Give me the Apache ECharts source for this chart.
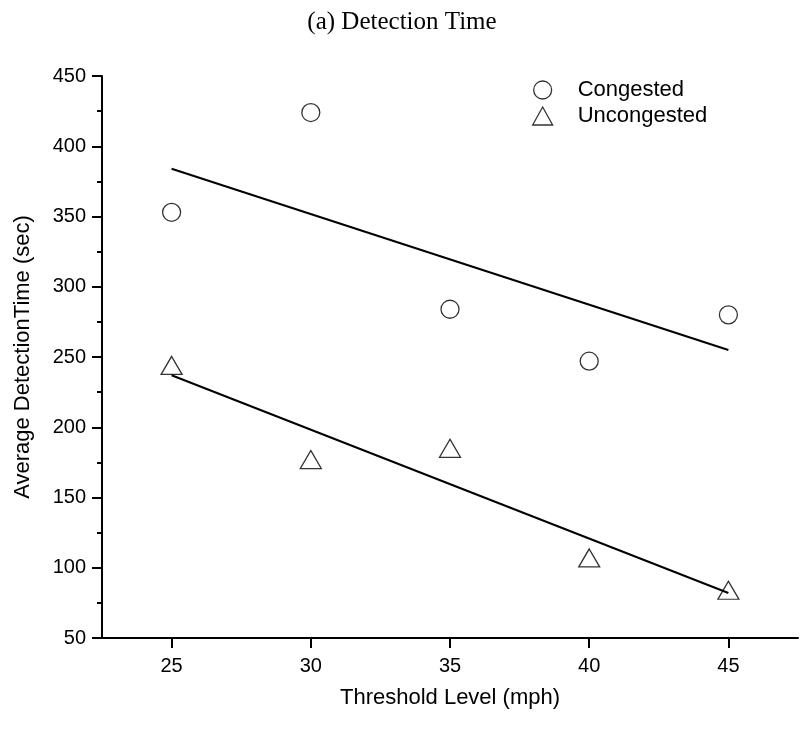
<!DOCTYPE html>
<html>
<head>
<meta charset="utf-8">
<script src="https://cdn.jsdelivr.net/npm/echarts@6/dist/echarts.min.js"></script>
<style>
  html, body { margin: 0; padding: 0; background: #fff; }
  #chart { width: 804px; height: 729px; }
</style>
</head>
<body>
<div id="chart"></div>
<script>
  // threshold levels (mph)
  var thresholds = [25, 30, 35, 40, 45]
  // average detection time (sec)
  var congested = [353, 424, 284, 247, 280]
  var uncongested = [244, 177, 185, 107, 84]
  // fitted lines, read at the ends
  var fitX = [25, 45]
  var fitCongested = [384, 255]
  var fitUncongested = [237, 82]

  function pairs (xs, ys) {
    return xs.map(function (x, i) { return [x, ys[i]] })
  }

  var myChart = echarts.init(document.getElementById('chart'))
  var font = 'Liberation Sans, Arial, sans-serif'
  var option = {
    animation: false,
    title: {
      text: '(a) Detection Time',
      left: 'center',
      top: 5,
      textStyle: { fontFamily: 'Liberation Serif, Times New Roman, serif', fontSize: 25, fontWeight: 'normal', color: '#000' }
    },
    legend: {
      orient: 'vertical',
      left: 527,
      top: 74,
      itemWidth: 20,
      itemHeight: 18,
      itemGap: 4,
      textStyle: { fontFamily: font, fontSize: 22, color: '#000', padding: [0, 0, 0, 20] },
      data: [
        { name: 'Congested', icon: 'circle', itemStyle: { color: '#fff', borderColor: '#000', borderWidth: 1.3 } },
        { name: 'Uncongested', icon: 'triangle', itemStyle: { color: '#fff', borderColor: '#000', borderWidth: 1.3 } }
      ]
    },
    grid: { left: 102, right: 6, top: 76, bottom: 91, containLabel: false },
    xAxis: {
      type: 'value',
      min: 22.5,
      max: 47.5,
      interval: 5,
      name: 'Threshold Level (mph)',
      nameLocation: 'middle',
      nameGap: 49,
      nameTextStyle: { fontFamily: font, fontSize: 22, color: '#000' },
      axisLine: { onZero: false, lineStyle: { color: '#000', width: 2 } },
      axisTick: { length: 10, lineStyle: { color: '#000', width: 2 }, customValues: thresholds },
      axisLabel: { fontFamily: font, fontSize: 20, color: '#000', margin: 18, customValues: thresholds },
      splitLine: { show: false }
    },
    yAxis: {
      type: 'value',
      min: 50,
      max: 450,
      interval: 50,
      name: 'Average DetectionTime (sec)',
      nameLocation: 'middle',
      nameGap: 68,
      nameTextStyle: { fontFamily: font, fontSize: 22, color: '#000' },
      axisLine: { show: true, lineStyle: { color: '#000', width: 2 } },
      axisTick: { length: 10, lineStyle: { color: '#000', width: 2 } },
      minorTick: { show: true, splitNumber: 2, length: 5, lineStyle: { color: '#000', width: 2 } },
      axisLabel: { fontFamily: font, fontSize: 20, color: '#000', margin: 16 },
      splitLine: { show: false }
    },
    series: [
      {
        name: 'Congested',
        type: 'scatter',
        symbol: 'circle',
        symbolSize: 18,
        itemStyle: { color: '#fff', borderColor: '#000', borderWidth: 1.3 },
        data: pairs(thresholds, congested),
        z: 3
      },
      {
        name: 'Uncongested',
        type: 'scatter',
        symbol: 'triangle',
        symbolSize: [21, 18],
        itemStyle: { color: '#fff', borderColor: '#000', borderWidth: 1.3 },
        data: pairs(thresholds, uncongested),
        z: 3
      },
      {
        name: 'fitC',
        type: 'line',
        showSymbol: false,
        lineStyle: { color: '#000', width: 2 },
        data: pairs(fitX, fitCongested),
        z: 4
      },
      {
        name: 'fitU',
        type: 'line',
        showSymbol: false,
        lineStyle: { color: '#000', width: 2 },
        data: pairs(fitX, fitUncongested),
        z: 4
      }
    ]
  }
  myChart.setOption(option)
</script>
</body>
</html>
